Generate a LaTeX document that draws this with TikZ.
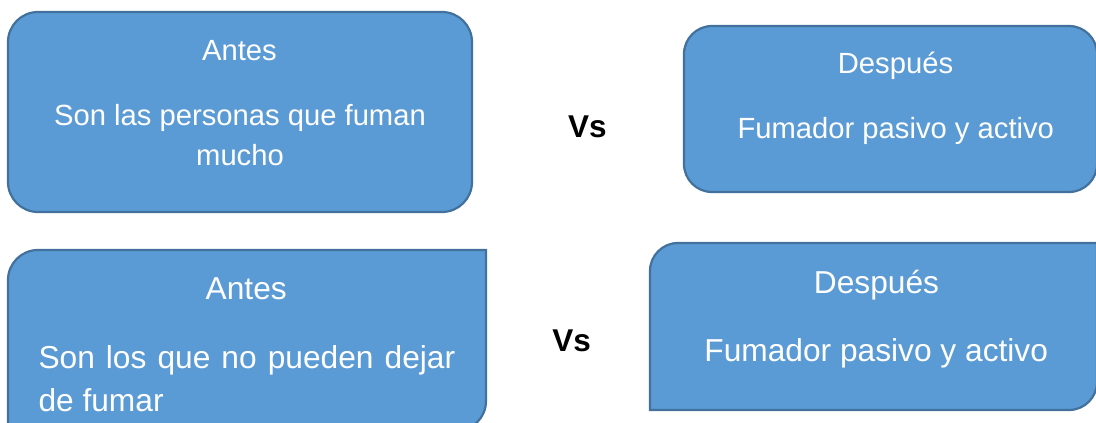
\documentclass[tikz,border=0pt]{standalone}
\usepackage{fontspec}
\setmainfont{Liberation Sans}
\definecolor{azulcaja}{RGB}{91,155,213}
\definecolor{azulborde}{RGB}{65,113,156}

\begin{document}
\begin{tikzpicture}[x=1pt,y=-1pt,
  caja/.style={fill=azulcaja,draw=azulborde,line width=2.2pt},
  textoA/.style={text=white,anchor=base,inner sep=0pt,font=\fontsize{29.2}{35}\selectfont},
  textoB/.style={text=white,anchor=base,inner sep=0pt,font=\fontsize{31.7}{38}\selectfont},
  versus/.style={anchor=base,inner sep=0pt,font=\fontsize{31.5}{38}\selectfont\bfseries}]
\clip (0,0) rectangle (1096,423);
\draw[caja,rounded corners=30pt] (8,12) rectangle (472,212);
\draw[caja,rounded corners=28pt] (684,26) rectangle (1097,192);
\draw[caja] (8,431) -- (8,280) arc[start angle=180,end angle=270,radius=30] -- (486,250) -- (486,401) arc[start angle=0,end angle=90,radius=30] -- cycle;
\draw[caja] (650,410) -- (650,271) arc[start angle=180,end angle=270,radius=28] -- (1097,243) -- (1097,382) arc[start angle=0,end angle=90,radius=28] -- cycle;
\node[textoA] (antesA) at (239.5,60.7) {Antes};
\node[textoA] (defA1) at (240,125) {Son las personas que fuman};
\node[textoA] (defA2) at (240,165) {mucho};
\node[versus] (vsA) at (587.4,137.3) {Vs};
\node[textoA] (despuesA) at (895.5,73.3) {Después};
\node[textoA] (fumadorA) at (895.8,138.3) {Fumador pasivo y activo};
\node[textoB] (antesB) at (246.2,299.3) {Antes};
\node[textoB,anchor=base west] (defB1) at (38.3,368.3) {\makebox[416.7pt][s]{Son los que no pueden dejar}};
\node[textoB,anchor=base west] (defB2) at (38.3,411.7) {de fumar};
\node[versus] (vsB) at (571.7,351) {Vs};
\node[textoB] (despuesB) at (876.5,293.3) {Después};
\node[textoB] (fumadorB) at (876.2,361.7) {Fumador pasivo y activo};
\end{tikzpicture}
\end{document}
